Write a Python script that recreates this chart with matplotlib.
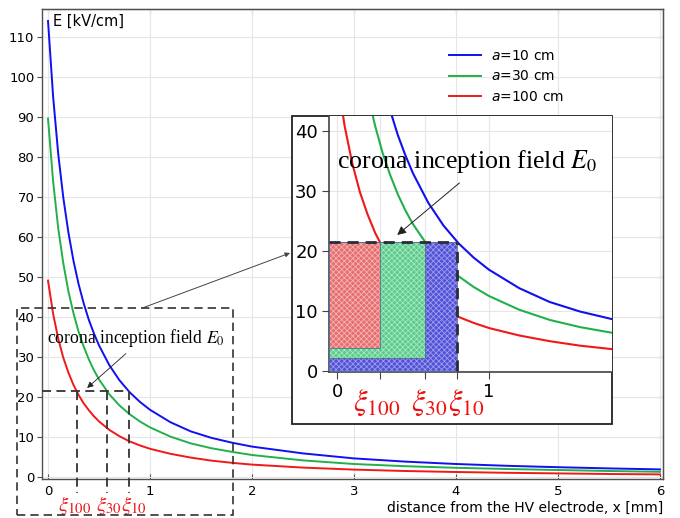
import matplotlib
matplotlib.use("Agg")
import matplotlib.pyplot as plt
from matplotlib.patches import Rectangle
import matplotlib.transforms as mtransforms

plt.rcParams["hatch.linewidth"] = 0.6

# Electric field vs distance from the HV electrode, x [mm] -> E [kV/cm]
x_mm = [0, 0.05, 0.1, 0.15, 0.2, 0.25, 0.3, 0.35, 0.4, 0.45, 0.5, 0.6, 0.7, 0.8,
        0.9, 1.0, 1.2, 1.4, 1.6, 1.8, 2.0, 2.5, 3.0, 3.5, 4.0, 4.5, 5.0, 5.5, 6.0]
E_a10 = [114.1, 95.2, 80.9, 69.9, 61.2, 54.1, 48.3, 43.5, 39.4, 36.0, 33.0, 28.1,
         24.3, 21.3, 18.9, 16.9, 13.8, 11.5, 9.9, 8.7, 7.7, 6.0, 4.75, 3.95, 3.35,
         2.9, 2.55, 2.25, 2.0]
E_a30 = [89.7, 74.0, 62.3, 53.5, 46.5, 41.0, 36.4, 32.7, 29.5, 26.8, 24.5, 20.8,
         18.0, 15.8, 14.0, 12.5, 10.2, 8.5, 7.3, 6.4, 5.6, 4.25, 3.35, 2.8, 2.4,
         2.1, 1.85, 1.6, 1.4]
E_a100 = [49.2, 40.9, 34.7, 29.9, 26.2, 23.1, 20.6, 18.5, 16.8, 15.3, 14.0, 11.9,
          10.3, 9.0, 8.0, 7.15, 5.9, 4.95, 4.2, 3.65, 3.2, 2.45, 1.95, 1.6, 1.35,
          1.15, 1.0, 0.85, 0.75]

series_labels = [r"$a$=10 cm", r"$a$=30 cm", r"$a$=100 cm"]
series_colors = ["#1010f0", "#22b04a", "#f01818"]

E0 = 21.5                       # corona inception field [kV/cm]
xi_values = [0.28, 0.58, 0.79]  # xi_100, xi_30, xi_10 [mm]
xi_labels = [r"$\xi_{100}$", r"$\xi_{30}$", r"$\xi_{10}$"]
E0_text = r"corona inception field $E_0$"

x_ticks = [0, 1, 2, 3, 4, 5, 6]
y_ticks = [0, 10, 20, 30, 40, 50, 60, 70, 80, 90, 100, 110]
inset_y_ticks = [0, 10, 20, 30, 40]

W, H = 680, 518
fig = plt.figure(figsize=(W / 100, H / 100), dpi=100)

def fx(px):
    return px / W

def fy(py):
    return 1 - py / H

# ---------------- main axes ----------------
ax = fig.add_axes([fx(42), fy(479), (663 - 42) / W, (479 - 9) / H])
curves = [E_a10, E_a30, E_a100]
for E, c, lab in zip(curves, series_colors, series_labels):
    ax.plot(x_mm, E, color=c, lw=1.4, label=lab, zorder=3)

ax.set_xlim(-0.059, 6.03)
ax.set_ylim(-0.4, 117.1)
ax.set_xticks(x_ticks)
ax.set_yticks(y_ticks)
ax.grid(True, color="#e6e6e6", lw=0.8)
ax.set_axisbelow(True)
for s in ax.spines.values():
    s.set_color("#505050")
    s.set_linewidth(1.0)
ax.tick_params(axis="y", direction="out", length=3.5, labelsize=9.5,
               color="#505050", pad=2)
ax.tick_params(axis="x", direction="in", length=3.5, labelsize=9.5,
               color="#505050", pad=4)
sec_x = ax.secondary_xaxis("top")
sec_x.set_xticks(x_ticks)
sec_x.tick_params(direction="in", length=3.5, labeltop=False, color="#505050")
sec_y = ax.secondary_yaxis("right")
sec_y.set_yticks(y_ticks)
sec_y.tick_params(direction="in", length=3.5, labelright=False, color="#505050")

ax.text(0.018, 0.973, "E [kV/cm]", transform=ax.transAxes, fontsize=10.5,
        ha="left", va="center")
ax.text(1.0, -0.062, "distance from the HV electrode, x [mm]",
        transform=ax.transAxes, fontsize=10, ha="right", va="center")

ax.legend(loc="upper left", bbox_to_anchor=(0.635, 0.941), frameon=False,
          fontsize=10, handlelength=2.3, handletextpad=0.7, labelspacing=0.45)

dash_kw = dict(color="#333333", lw=1.3, ls=(0, (5, 3)), clip_on=False, zorder=4)
# threshold lines in the main axes
ax.plot([-0.059, xi_values[2]], [E0, E0], **dash_kw)
for xv in xi_values:
    ax.plot([xv, xv], [E0, -3.9], **dash_kw)

# zoom region marker
zoom_x0, zoom_x1 = -0.307, 1.81
zoom_y0, zoom_y1 = -9.4, 42.4
ax.add_patch(Rectangle((zoom_x0, zoom_y0), zoom_x1 - zoom_x0, zoom_y1 - zoom_y0,
                       fill=False, ec="#333333", lw=1.2, ls=(0, (5, 3)),
                       clip_on=False, zorder=4))

tr_main = mtransforms.blended_transform_factory(ax.transData, ax.transAxes)
for xv, lab in zip([0.262, 0.595, 0.845], xi_labels):
    ax.text(xv, -0.056, lab, transform=tr_main, color="#ee1111", fontsize=15,
            ha="center", va="center", math_fontfamily="stix")

ax.text(-0.01, 34.9, E0_text, fontsize=12.7, family="Liberation Serif",
        math_fontfamily="stix", ha="left", va="center", zorder=5)
ax.annotate("", xy=(0.363, 21.9), xytext=(0.784, 31.4),
            arrowprops=dict(arrowstyle="-|>", color="#222222", lw=0.6,
                            mutation_scale=9), zorder=5)

# connector from zoom box to the inset
ax.annotate("", xy=(fx(290), fy(253)), xycoords="figure fraction",
            xytext=(0.93, zoom_y1), textcoords="data",
            arrowprops=dict(arrowstyle="-|>", color="#444444", lw=0.7,
                            mutation_scale=7, shrinkA=0, shrinkB=0),
            annotation_clip=False)

# ---------------- inset ----------------
frame = Rectangle((fx(291.5), fy(424)), (612 - 291.5) / W, (424 - 116) / H,
                  transform=fig.transFigure, fc="white", ec="#222222", lw=1.3,
                  zorder=2)
fig.patches.append(frame)

axin = fig.add_axes([fx(329), fy(372), (612 - 329) / W, (372 - 116.5) / H])
axin.set_zorder(3)
axin.set_xlim(-0.053, 1.81)
axin.set_ylim(-0.2, 42.5)
axin.grid(True, color="#e6e6e6", lw=0.8)
axin.set_axisbelow(True)
axin.set_yticks(inset_y_ticks)
axin.set_xticks([0, xi_values[0], xi_values[1], xi_values[2], 1])
axin.set_xticklabels(["0", "", "", "", "1"])
axin.tick_params(direction="out", length=5, labelsize=13, color="#444444",
                 pad=3)
for side in ["top", "right"]:
    axin.spines[side].set_visible(False)
for side in ["left", "bottom"]:
    axin.spines[side].set_color("#444444")
    axin.spines[side].set_linewidth(1.2)

for E, c in zip(curves, series_colors):
    axin.plot(x_mm, E, color=c, lw=1.5, zorder=2)

left = -0.053
rect_specs = [
    (xi_values[2], 0.0, "#5252d6", "#9c9cf0"),
    (xi_values[1], 2.1, "#5ccb8c", "#a6e8c2"),
    (xi_values[0], 3.8, "#e66e6e", "#f5b3b3"),
]
for xr, yb, face, hatch_col in rect_specs:
    axin.add_patch(Rectangle((left, yb), xr - left, E0 - yb, fc=face,
                             ec=hatch_col, lw=0, hatch="xxxxxx", zorder=3))
    axin.add_patch(Rectangle((left, yb), xr - left, E0 - yb, fill=False,
                             ec="#5a6f9a", lw=0.6, zorder=3.1))

dash_in = dict(color="#2a2a3a", lw=2.0, ls=(0, (4, 2.5)), zorder=4,
               clip_on=False)
axin.plot([left, xi_values[2]], [E0, E0], **dash_in)
axin.plot([xi_values[2], xi_values[2]], [0, E0], **dash_in)

axin.text(0.0, 35.05, E0_text, fontsize=18.6, family="Liberation Serif",
          math_fontfamily="stix", ha="left", va="center", zorder=5)
axin.annotate("", xy=(0.382, 22.4), xytext=(0.82, 31.7),
              arrowprops=dict(arrowstyle="-|>", color="#222222", lw=0.7,
                              mutation_scale=13), zorder=5)

tr_in = mtransforms.blended_transform_factory(axin.transData, axin.transAxes)
for xv, lab in zip([0.258, 0.607, 0.85], xi_labels):
    axin.text(xv, -0.12, lab, transform=tr_in, color="#ee1111", fontsize=22,
              ha="center", va="center", math_fontfamily="stix")

fig.savefig("out.png", dpi=100)
